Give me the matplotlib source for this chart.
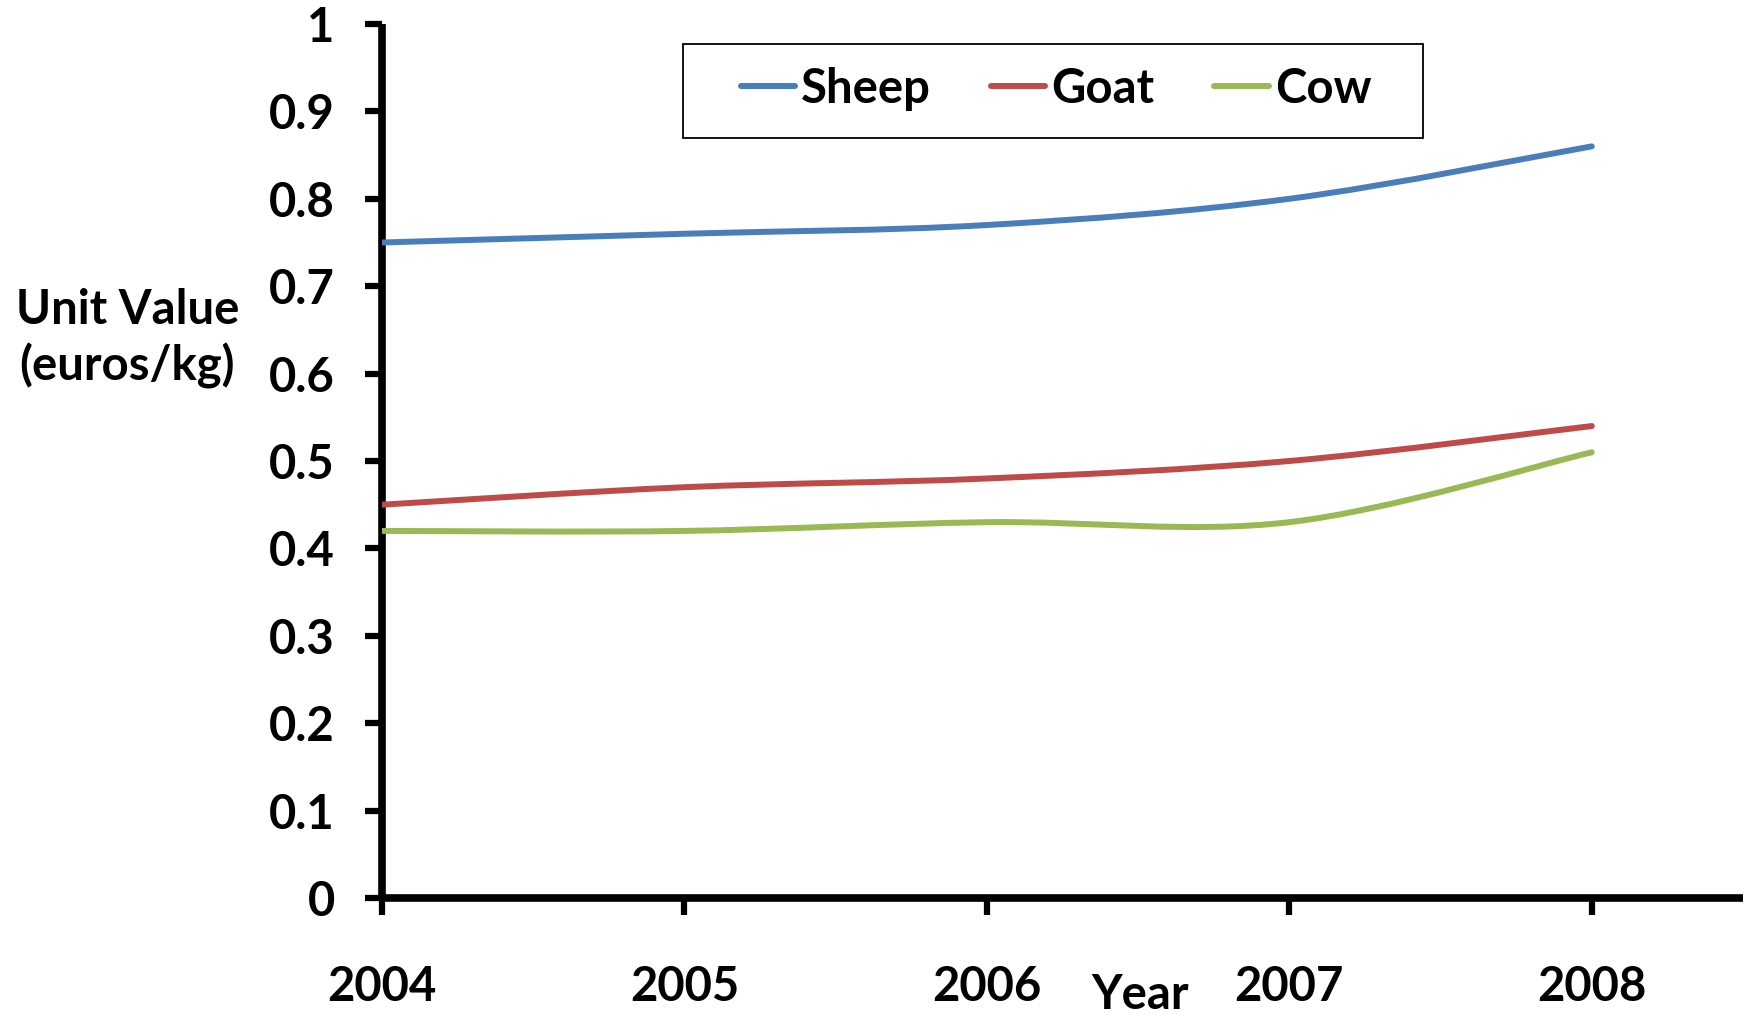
""" Unit value of milk by animal, 2004-2008 """
import numpy as np
import matplotlib
matplotlib.use('Agg')
import matplotlib.pyplot as plt   # Library for plotting
from matplotlib.path import Path
from matplotlib.patches import PathPatch, Rectangle
from matplotlib.lines import Line2D

YEARS = [2004, 2005, 2006, 2007, 2008]
SHEEP = [0.75, 0.76, 0.77, 0.80, 0.86]
GOAT = [0.45, 0.47, 0.48, 0.50, 0.54]
COW = [0.42, 0.42, 0.43, 0.43, 0.51]
NAMES = ['Sheep', 'Goat', 'Cow']
COLORS = ['#4A7EBB', '#BE4B48', '#98B954']
Y_TICKS = [0, 0.1, 0.2, 0.3, 0.4, 0.5, 0.6, 0.7, 0.8, 0.9, 1]

plt.rcParams['font.family'] = ['Lato', 'DejaVu Sans']
plt.rcParams['font.weight'] = 'bold'
FS = 34
W, H = 1748, 1014   # figure size in pixels


def smooth_path(xs, ys):
    """Excel style smoothed line as bezier segments"""
    pts = list(zip(xs, ys))
    verts = [pts[0]]
    codes = [Path.MOVETO]
    n = len(pts)
    for i in range(n - 1):
        p0 = pts[max(i - 1, 0)]
        p1 = pts[i]
        p2 = pts[i + 1]
        p3 = pts[min(i + 2, n - 1)]
        c1 = (p1[0] + (p2[0] - p0[0]) / 6, p1[1] + (p2[1] - p0[1]) / 6)
        c2 = (p2[0] - (p3[0] - p1[0]) / 6, p2[1] - (p3[1] - p1[1]) / 6)
        verts += [c1, c2, p2]
        codes += [Path.CURVE4] * 3
    return Path(verts, codes)


fig = plt.figure(figsize=(W / 100, H / 100), dpi=100)
ax = fig.add_axes([382 / W, 1 - 898 / H, 1361 / W, 874 / H])

handles = []
for vals, name, col in zip([SHEEP, GOAT, COW], NAMES, COLORS):
    patch = PathPatch(smooth_path(YEARS, vals), facecolor='none',
                      edgecolor=col, lw=4.3, capstyle='round', zorder=3)
    ax.add_patch(patch)
    handles.append(Line2D([], [], color=col, lw=4.3,
                          solid_capstyle='round', label=name))

ax.set_xlim(2004, 2008.5)
ax.set_ylim(0, 1)
ax.set_xticks(YEARS)
ax.set_xticklabels([str(y) for y in YEARS])
ax.set_yticks(Y_TICKS)
ax.set_yticklabels(['0' if v == 0 else '1' if v == 1 else str(v)
                    for v in Y_TICKS])

for side in ['top', 'right']:
    ax.spines[side].set_visible(False)
for side in ['left', 'bottom']:
    ax.spines[side].set_linewidth(5.5)
    ax.spines[side].set_capstyle('butt')
ax.tick_params(axis='both', direction='out', length=12, width=4.5,
               labelsize=FS, colors='black')
ax.tick_params(axis='x', pad=36)
ax.tick_params(axis='y', pad=22)

ax.set_ylabel('Unit Value\n(euros/kg)', fontsize=FS, fontweight='bold',
              rotation=0, ha='center', va='center', linespacing=1.3)
ax.yaxis.set_label_coords(-0.187, 0.64)
fig.text(1140 / W, 1 - 995 / H, 'Year', fontsize=FS,
         fontweight='bold', ha='center', va='center')

# legend box drawn on its own, entries without frame
fig.patches.append(Rectangle((683 / W, 1 - 138 / H), 740 / W, 94 / H,
                             transform=fig.transFigure, facecolor='white',
                             edgecolor='black', lw=1.3, zorder=4))
leg = fig.legend(handles=handles, loc='center', ncol=3,
                 bbox_to_anchor=(1056 / W, 1 - 89 / H),
                 fontsize=FS, frameon=False,
                 handlelength=1.15, handletextpad=0.13,
                 columnspacing=1.27, borderpad=0.3)
leg.set_zorder(5)

fig.savefig('out.png', dpi=100)
